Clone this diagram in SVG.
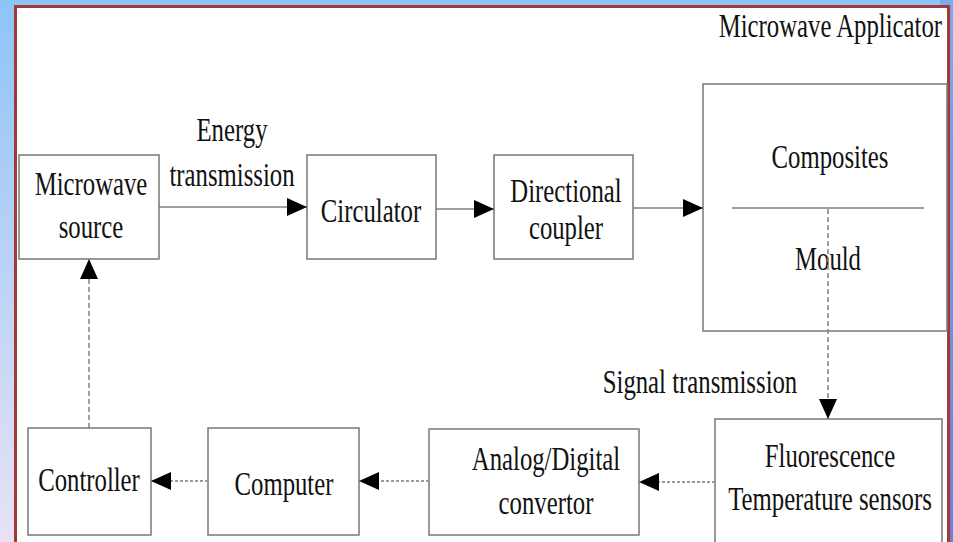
<svg xmlns="http://www.w3.org/2000/svg" width="953" height="542" viewBox="0 0 953 542">
<defs>
<linearGradient id="bg" x1="0" y1="0" x2="0" y2="1">
<stop offset="0" stop-color="#8ec4f7"/>
<stop offset="1" stop-color="#e8e2f4"/>
</linearGradient>
<linearGradient id="bgr" x1="0" y1="0" x2="0" y2="1">
<stop offset="0" stop-color="#7fa8ee"/>
<stop offset="1" stop-color="#6a7fd8"/>
</linearGradient>
<marker id="ah" markerUnits="userSpaceOnUse" markerWidth="22" markerHeight="18" refX="20" refY="9" orient="auto">
<path d="M0,0 L20,9 L0,18 Z" fill="#000"/>
</marker>
<style>
.box{fill:#fff;stroke:#7f7f7f;stroke-width:1.6}
.t{font-family:"Liberation Serif","Times New Roman",serif;font-size:33px;fill:#111;text-anchor:middle}
.solid{stroke:#808080;stroke-width:1.6;fill:none}
.dash{stroke:#8a8a8a;stroke-width:1.6;fill:none;stroke-dasharray:5,3}
.dot{stroke:#9a9a9a;stroke-width:2;fill:none;stroke-dasharray:3,2}
</style>
</defs>
<rect x="0" y="0" width="953" height="542" fill="url(#bg)"/>
<rect x="940" y="0" width="13" height="542" fill="url(#bgr)"/>
<rect x="15.5" y="6.5" width="933" height="540" fill="#fff" stroke="#9e3a3a" stroke-width="3"/>

<g id="label-applicator"><text class="t" transform="translate(942,37) scale(0.75,1)" style="text-anchor:end">Microwave Applicator</text></g>

<g id="microwave-source">
<rect class="box" x="19" y="155" width="140" height="104"/>
<text class="t" transform="translate(91,195) scale(0.75,1)">Microwave</text>
<text class="t" transform="translate(91,238) scale(0.75,1)">source</text>
</g>
<g id="circulator">
<rect class="box" x="307" y="155" width="129" height="104"/>
<text class="t" transform="translate(371,222) scale(0.75,1)">Circulator</text>
</g>
<g id="directional-coupler">
<rect class="box" x="494" y="155" width="139" height="104"/>
<text class="t" transform="translate(566,202) scale(0.75,1)">Directional</text>
<text class="t" transform="translate(566,239) scale(0.75,1)">coupler</text>
</g>
<g id="applicator">
<rect class="box" x="703" y="84" width="244" height="247"/>
<line x1="732" y1="208" x2="924" y2="208" stroke="#7f7f7f" stroke-width="1.6"/>
<text class="t" transform="translate(830,168) scale(0.75,1)">Composites</text>
<text class="t" transform="translate(828,270) scale(0.75,1)">Mould</text>
</g>
<g id="fluorescence-sensors">
<rect class="box" x="715" y="419" width="227" height="130"/>
<text class="t" transform="translate(830,467) scale(0.75,1)">Fluorescence</text>
<text class="t" transform="translate(830,510) scale(0.75,1)">Temperature sensors</text>
</g>
<g id="ad-convertor">
<rect class="box" x="429" y="429" width="210" height="106"/>
<text class="t" transform="translate(546,470) scale(0.75,1)">Analog/Digital</text>
<text class="t" transform="translate(546,514) scale(0.75,1)">convertor</text>
</g>
<g id="computer">
<rect class="box" x="208" y="428" width="151" height="107"/>
<text class="t" transform="translate(284,495) scale(0.75,1)">Computer</text>
</g>
<g id="controller">
<rect class="box" x="28" y="428" width="123" height="107"/>
<text class="t" transform="translate(89,491) scale(0.75,1)">Controller</text>
</g>

<g id="connectors">
<line class="solid" x1="159" y1="207" x2="307" y2="207" marker-end="url(#ah)"/>
<line class="solid" x1="436" y1="209" x2="494" y2="209" marker-end="url(#ah)"/>
<line class="solid" x1="633" y1="208" x2="703" y2="208" marker-end="url(#ah)"/>
<line class="dash" x1="828" y1="209" x2="828" y2="419" marker-end="url(#ah)"/>
<line class="dot" x1="715" y1="482" x2="639" y2="482" marker-end="url(#ah)"/>
<line class="dot" x1="429" y1="481" x2="359" y2="481" marker-end="url(#ah)"/>
<line class="dot" x1="208" y1="481" x2="151" y2="481" marker-end="url(#ah)"/>
<line class="dash" x1="89" y1="428" x2="89" y2="259" marker-end="url(#ah)"/>
<text class="t" transform="translate(232,141) scale(0.75,1)">Energy</text>
<text class="t" transform="translate(232,186) scale(0.75,1)">transmission</text>
<text class="t" transform="translate(700,393) scale(0.75,1)">Signal transmission</text>
</g>
</svg>
